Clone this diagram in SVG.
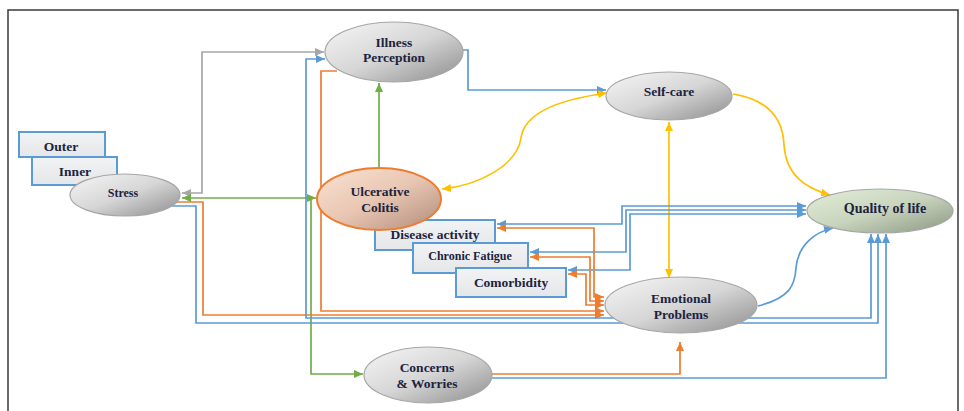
<svg xmlns="http://www.w3.org/2000/svg" width="964" height="411" viewBox="0 0 964 411">
<defs>
<linearGradient id="gGray" x1="0" y1="0" x2="1" y2="1">
<stop offset="0" stop-color="#f6f6f6"/><stop offset="0.5" stop-color="#d6d6d6"/><stop offset="1" stop-color="#8c8c8c"/>
</linearGradient>
<linearGradient id="gUC" x1="0" y1="0" x2="1" y2="1">
<stop offset="0" stop-color="#fbe2d2"/><stop offset="0.5" stop-color="#e8c6b2"/><stop offset="1" stop-color="#b08a7a"/>
</linearGradient>
<linearGradient id="gQoL" x1="0" y1="0" x2="1" y2="1">
<stop offset="0" stop-color="#e4eedb"/><stop offset="0.5" stop-color="#c8d4bc"/><stop offset="1" stop-color="#8a9682"/>
</linearGradient>
<linearGradient id="gBox" x1="0" y1="0" x2="0" y2="1">
<stop offset="0" stop-color="#f2f3f4"/><stop offset="1" stop-color="#e4e6e8"/>
</linearGradient>
<marker id="aB" markerUnits="userSpaceOnUse" markerWidth="9" markerHeight="8" refX="9" refY="4" orient="auto-start-reverse"><path d="M0,0 L9,4 L0,8 z" fill="#5b9bd5"/></marker>
<marker id="aO" markerUnits="userSpaceOnUse" markerWidth="9" markerHeight="8" refX="9" refY="4" orient="auto-start-reverse"><path d="M0,0 L9,4 L0,8 z" fill="#ed7d31"/></marker>
<marker id="aG" markerUnits="userSpaceOnUse" markerWidth="9" markerHeight="8" refX="9" refY="4" orient="auto-start-reverse"><path d="M0,0 L9,4 L0,8 z" fill="#70ad47"/></marker>
<marker id="aY" markerUnits="userSpaceOnUse" markerWidth="9" markerHeight="8" refX="9" refY="4" orient="auto-start-reverse"><path d="M0,0 L9,4 L0,8 z" fill="#ffc000"/></marker>
<marker id="aR" markerUnits="userSpaceOnUse" markerWidth="9" markerHeight="8" refX="9" refY="4" orient="auto-start-reverse"><path d="M0,0 L9,4 L0,8 z" fill="#a6a6a6"/></marker>
</defs>
<style>
.c{fill:none;stroke-width:1.7;stroke-linejoin:miter}
.b{stroke:#5b9bd5}.o{stroke:#ed7d31}.g{stroke:#70ad47}.y{stroke:#ffc000}.r{stroke:#a6a6a6}
.el{fill:url(#gGray);stroke:#a6a6a6;stroke-width:1.2}
.bx{fill:url(#gBox);stroke:#5b9bd5;stroke-width:2}
.t{font-family:"Liberation Serif","Times New Roman",serif;font-weight:bold;font-size:13.5px;fill:#1c2340;text-anchor:middle}
</style>
<rect x="8" y="10" width="950" height="420" fill="#ffffff" stroke="#3a3a3a" stroke-width="1.5"/>

<g id="connectors">
<path class="c r" d="M182,193 H202 V52 H324" marker-start="url(#aR)" marker-end="url(#aR)"/>
<path class="c g" d="M182,198 H316" marker-start="url(#aG)" marker-end="url(#aG)"/>
<path class="c g" d="M311,200 V374 H363" marker-end="url(#aG)"/>
<path class="c g" d="M379,168 V83" marker-end="url(#aG)"/>
<path class="c b" d="M172,206 H196 V323 H878 V234" marker-end="url(#aB)"/>
<path class="c o" d="M176,202 H203 V315 H604" marker-end="url(#aO)"/>
<path class="c b" d="M325,59 H306 V318 H871 V234" marker-start="url(#aB)" marker-end="url(#aB)"/>
<path class="c o" d="M337,71 H321 V311 H604" marker-end="url(#aO)"/>
<path class="c b" d="M463,50 H468 V90 H606" marker-end="url(#aB)"/>
<path class="c y" d="M607,93 C555,100 524,115 521,138 C517,165 480,185 442,189" marker-start="url(#aY)" marker-end="url(#aY)"/>
<path class="c y" d="M733,94 C770,100 783,120 784,145 C786,175 805,188 830,195" marker-end="url(#aY)"/>
<path class="c y" d="M669,122 V278" marker-start="url(#aY)" marker-end="url(#aY)"/>
<path class="c b" d="M758,306 C790,298 795,285 796,268 C798,245 815,232 833,228" marker-end="url(#aB)"/>
<path class="c b" d="M497,224 H622 V206 H806" marker-start="url(#aB)" marker-end="url(#aB)"/>
<path class="c b" d="M530,252 H626 V210 H806" marker-start="url(#aB)" marker-end="url(#aB)"/>
<path class="c b" d="M568,270 H630 V214 H806" marker-start="url(#aB)" marker-end="url(#aB)"/>
<path class="c o" d="M497,228 H594 V297 H604" marker-start="url(#aO)" marker-end="url(#aO)"/>
<path class="c o" d="M530,257 H590 V301 H604" marker-start="url(#aO)" marker-end="url(#aO)"/>
<path class="c o" d="M568,274 H586 V305 H604" marker-start="url(#aO)" marker-end="url(#aO)"/>
<path class="c o" d="M492,374 H680 V342" marker-end="url(#aO)"/>
<path class="c b" d="M492,378 H886 V234" marker-end="url(#aB)"/>
</g>

<g id="outer"><rect class="bx" x="19" y="132" width="86" height="25"/><text class="t" x="61" y="151">Outer</text></g>
<g id="inner"><rect class="bx" x="32" y="157" width="85" height="28"/><text class="t" x="75" y="176">Inner</text></g>
<g id="stress"><ellipse class="el" cx="125" cy="195" rx="55" ry="21"/><text class="t" x="123" y="197" style="font-size:12px">Stress</text></g>
<g id="illness-perception"><ellipse class="el" cx="394" cy="52" rx="69" ry="30"/><text class="t" x="394" y="47">Illness</text><text class="t" x="394" y="62">Perception</text></g>
<g id="self-care"><ellipse class="el" cx="669" cy="96" rx="63" ry="24"/><text class="t" x="669" y="96">Self-care</text></g>
<g id="quality-of-life"><ellipse cx="880" cy="211" rx="73" ry="22" fill="url(#gQoL)" stroke="#a6a6a6" stroke-width="1.2"/><text class="t" x="885" y="213" style="font-size:14px">Quality of life</text></g>
<g id="disease-activity"><rect class="bx" x="375" y="220" width="120" height="30"/><text class="t" x="435" y="239">Disease activity</text></g>
<g id="chronic-fatigue"><rect class="bx" x="413" y="243" width="115" height="30"/><text class="t" x="470" y="260" style="font-size:12px">Chronic Fatigue</text></g>
<g id="comorbidity"><rect class="bx" x="456" y="268" width="110" height="29"/><text class="t" x="511" y="287">Comorbidity</text></g>
<g id="ulcerative-colitis"><ellipse cx="379" cy="199" rx="62" ry="31" fill="url(#gUC)" stroke="#ed7d31" stroke-width="2"/><text class="t" x="380" y="196">Ulcerative</text><text class="t" x="380" y="212">Colitis</text></g>
<g id="emotional-problems"><ellipse class="el" cx="681" cy="305" rx="76" ry="28"/><text class="t" x="681" y="303">Emotional</text><text class="t" x="681" y="319">Problems</text></g>
<g id="concerns-worries"><ellipse class="el" cx="428" cy="375" rx="64" ry="28"/><text class="t" x="427" y="372">Concerns</text><text class="t" x="427" y="388">&amp; Worries</text></g>
</svg>
